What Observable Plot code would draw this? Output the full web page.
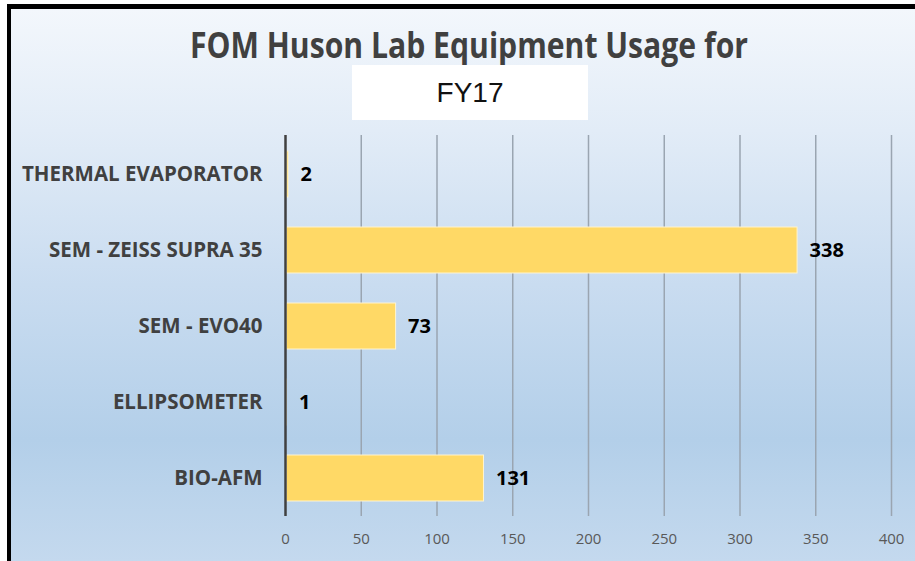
<!DOCTYPE html>
<html><head><meta charset="utf-8">
<script src="https://cdn.jsdelivr.net/npm/d3@7"></script>
<script src="https://cdn.jsdelivr.net/npm/@observablehq/plot@0.6"></script>
<style>
html,body{margin:0;padding:0;background:#fff;width:915px;height:561px;overflow:hidden;}
#frame{position:absolute;left:7px;top:4px;width:908px;height:557px;box-sizing:border-box;border-left:4px solid #000;border-top:5px solid #000;
 background:linear-gradient(180deg,#f3f7fc 0%,#e2ecf7 22%,#c9dcf0 50%,#b3cfe9 78%,#c4d9ee 100%);}
#title{position:absolute;left:0;top:22px;width:915px;height:46px;}
#fy{position:absolute;left:352px;top:65px;width:236px;height:55px;background:#fff;text-align:center;
 font-family:"Liberation Sans",Arial,sans-serif;font-size:28px;line-height:55px;color:#111;}
#chart{position:absolute;left:0;top:125px;}
</style></head><body>
<div id="frame"></div>
<svg id="title" width="915" height="46"><text x="190" y="36" textLength="558" lengthAdjust="spacingAndGlyphs"
 font-family="Open Sans, sans-serif" font-weight="bold" font-size="35" fill="#404040">FOM Huson Lab Equipment Usage for</text></svg>
<div id="fy">FY17</div>
<div id="chart"></div>
<script>
const categories = ["THERMAL EVAPORATOR", "SEM - ZEISS SUPRA 35", "SEM - EVO40", "ELLIPSOMETER", "BIO-AFM"];
const usage = [2, 338, 73, 1, 131];
const xTicks = [0, 50, 100, 150, 200, 250, 300, 350, 400];

const data = categories.map((name, i) => ({name, value: usage[i]}));

const chart = Plot.plot({
  width: 915,
  height: 436,
  marginTop: 10,
  marginBottom: 45,
  marginLeft: 285,
  marginRight: 24,
  style: {background: "transparent", fontFamily: "Open Sans, sans-serif"},
  x: {domain: [0, 400]},
  y: {domain: categories, paddingInner: 0.4, paddingOuter: 0.2},
  marks: [
    Plot.ruleX(xTicks.filter(d => d > 0), {x: d => d, stroke: "#9aa5b1", strokeWidth: 1.5}),
    Plot.barX(data, {x: "value", y: "name", fill: "#ffd966", stroke: "#fff4cf", strokeWidth: 1, insetLeft: 1.5}),
    Plot.ruleX([0], {stroke: "#404040", strokeWidth: 2.5}),
    Plot.text(data, {x: "value", y: "name", text: d => String(d.value), textAnchor: "start", dx: 12,
      fontWeight: "bold", fontSize: 20, fill: "#000"}),
    Plot.axisX({ticks: xTicks, tickSize: 0, tickPadding: 17, fontSize: 15, fill: "#595959", label: null}),
    Plot.axisY({tickSize: 0, tickPadding: 23, fontSize: 20.5, fontWeight: "bold", fill: "#404040", label: null})
  ]
});
document.getElementById("chart").appendChild(chart);
</script>
</body></html>
